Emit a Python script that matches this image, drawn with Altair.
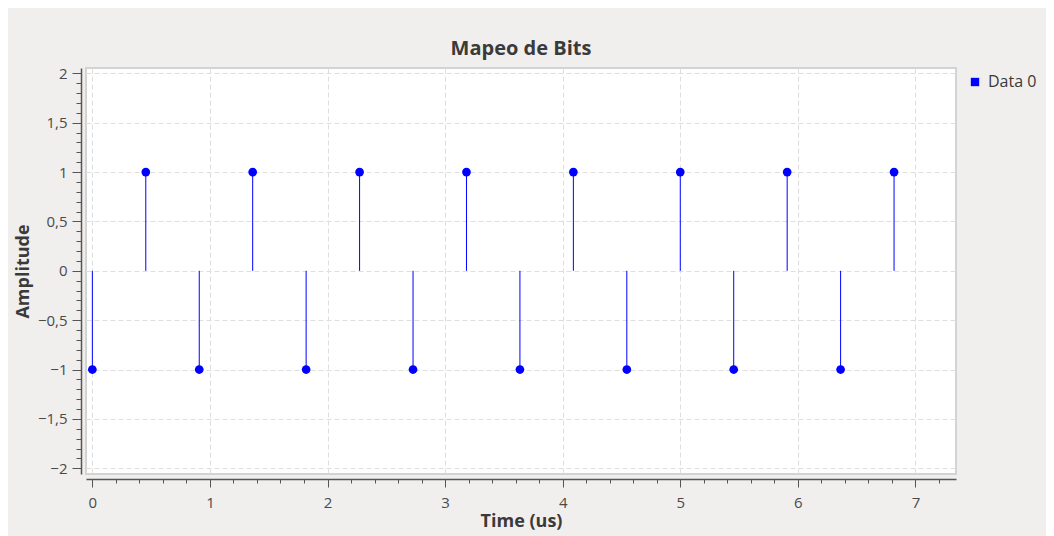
import altair as alt
import pandas as pd

# sample times (us) and bit amplitudes
times = [0.0, 0.4545, 0.9091, 1.3636, 1.8182, 2.2727, 2.7273, 3.1818,
         3.6364, 4.0909, 4.5455, 5.0, 5.4545, 5.9091, 6.3636, 6.8182]
values = [-1, 1, -1, 1, -1, 1, -1, 1, -1, 1, -1, 1, -1, 1, -1, 1]
series = ["Data 0"] * len(times)

x_ticks = [round(i * 0.2, 1) for i in range(0, 37)]
y_ticks = [round(-2 + i * 0.1, 1) for i in range(0, 41)]

df = pd.DataFrame({"t": times, "v": values, "zero": [0] * len(times), "s": series})

is_major_x = "abs(datum.value - round(datum.value)) < 0.001"
is_major_y = "abs(datum.value * 2 - round(datum.value * 2)) < 0.001"

x_axis = alt.Axis(
    values=x_ticks, tickCount=500,
    title="Time (us)",
    titleFont="Open Sans", titleFontSize=18, titleFontWeight="bold", titleColor="#3a3a3a",
    titlePadding=2,
    labelFont="Open Sans", labelFontSize=15, labelColor="#4a4a4a",
    labelExpr=f"{is_major_x} ? replace(format(datum.value, 'd'), '.', ',') : ''",
    labelPadding=8,
    labelFlush=False, labelOverlap=False,
    tickColor="#555555",
    tickSize={"condition": {"test": is_major_x, "value": 8}, "value": 4},
    domainColor="#555555", domainWidth=1.5,
    offset=5,
    grid=True, gridColor="#dedede", gridDash=[5, 3],
    gridOpacity={"condition": {"test": is_major_x, "value": 1}, "value": 0},
)

y_axis = alt.Axis(
    values=y_ticks, tickCount=500,
    title="Amplitude",
    titleFont="Open Sans", titleFontSize=18, titleFontWeight="bold", titleColor="#3a3a3a",
    titlePadding=5,
    labelFont="Open Sans", labelFontSize=15, labelColor="#4a4a4a",
    labelExpr=f"{is_major_y} ? replace(format(datum.value, '.2~f'), '.', ',') : ''",
    labelPadding=5,
    labelFlush=False, labelOverlap=False,
    tickColor="#555555",
    tickSize={"condition": {"test": is_major_y, "value": 9}, "value": 5},
    domainColor="#555555", domainWidth=1.5,
    offset=5,
    grid=True, gridColor="#dedede", gridDash=[5, 3],
    gridOpacity={"condition": {"test": is_major_y, "value": 1}, "value": 0},
)

xs = alt.Scale(domain=[-0.054, 7.345], nice=False, zero=False)
ys = alt.Scale(domain=[-2.058, 2.054], nice=False, zero=False)

color = alt.Color("s:N", scale=alt.Scale(domain=["Data 0"], range=["#0000ff"]),
                  legend=alt.Legend(title=None, orient="none", legendX=881, legendY=6,
                                    symbolType="square", symbolSize=70, symbolStrokeWidth=0,
                                    labelFont="Open Sans", labelFontSize=16, labelColor="#3a3a3a",
                                    labelOffset=5))

base = alt.Chart(df)

stems = base.mark_rule(strokeWidth=1, color="#0000ff").encode(
    x=alt.X("t:Q", scale=xs, axis=x_axis),
    y=alt.Y("zero:Q", scale=ys, axis=y_axis),
    y2="v:Q",
)

points = base.mark_circle(size=76, opacity=1).encode(
    x=alt.X("t:Q", scale=xs),
    y=alt.Y("v:Q", scale=ys),
    color=color,
)

chart = alt.layer(stems, points).properties(
    width=870, height=406,
    autosize=alt.AutoSizeParams(type="none"),
    padding={"left": 78, "top": 60, "right": 90, "bottom": 62},
    background="#f0efee",
    title=alt.Title("Mapeo de Bits", font="Open Sans", fontSize=20, fontWeight="bold",
                    color="#3a3a3a", anchor="middle", offset=7),
).configure_view(
    fill="white", stroke="#d3d3d3", strokeWidth=2,
)

chart.save("out.html", embed_options={"renderer": "svg", "actions": False})
